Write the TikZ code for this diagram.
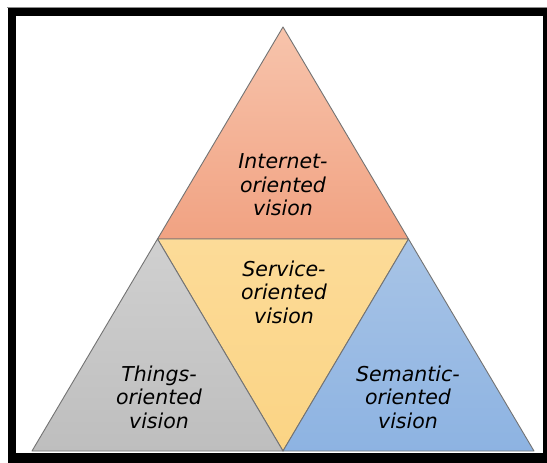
\documentclass[tikz,border=0pt]{standalone}
\usepackage{fontspec}
\setmainfont{DejaVu Sans}
\begin{document}
\begin{tikzpicture}[x=1pt,y=-1pt,
  part/.style={draw=black!55!white, line width=0.9pt, line join=round},
  lbl/.style={align=center, font=\fontsize{20.5}{23.5}\selectfont\itshape, text=black},
]
\useasboundingbox (0,0) rectangle (547,463);
\fill[white] (0,0) rectangle (547,463);
\draw[black!45, line width=0.6pt] (7,7) -- (547,7);
\fill[black] (8,8) rectangle (547,463);
\fill[white] (16,16) rectangle (543,453);
% vertices
\coordinate (apex) at (283,27);
\coordinate (bl) at (32,451);
\coordinate (br) at (534,451);
\coordinate (ml) at (157.5,239);
\coordinate (mr) at (408.5,239);
\coordinate (bm) at (283,451);
% top triangle
\path[part, top color={rgb,255:red,247;green,196;blue,172}, bottom color={rgb,255:red,241;green,162;blue,130}] (apex) -- (mr) -- (ml) -- cycle;
% middle inverted triangle
\path[part, top color={rgb,255:red,252;green,219;blue,152}, bottom color={rgb,255:red,251;green,212;blue,132}] (ml) -- (mr) -- (bm) -- cycle;
% left triangle
\path[part, top color={rgb,255:red,208;green,208;blue,208}, bottom color={rgb,255:red,190;green,190;blue,190}] (ml) -- (bm) -- (bl) -- cycle;
% right triangle
\path[part, top color={rgb,255:red,168;green,196;blue,230}, bottom color={rgb,255:red,141;green,179;blue,226}] (mr) -- (br) -- (bm) -- cycle;
% labels
\node[lbl] (internet) at (283,185) {Internet-\\oriented\\vision};
\node[lbl] (service) at (284,292) {Service-\\oriented\\vision};
\node[lbl] (things) at (159,397) {Things-\\oriented\\vision};
\node[lbl] (semantic) at (408,397) {Semantic-\\oriented\\vision};
\end{tikzpicture}
\end{document}
